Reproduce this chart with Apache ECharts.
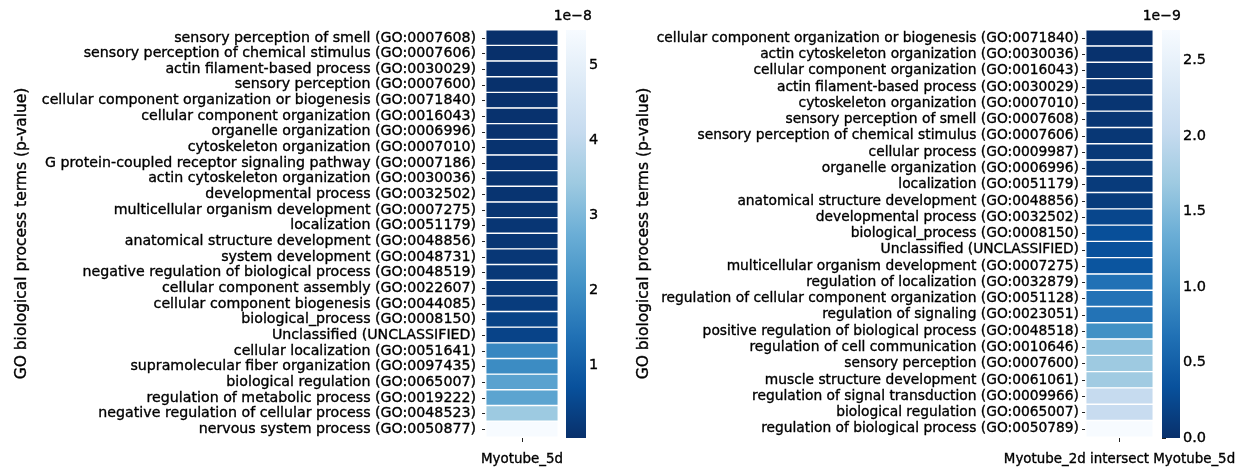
<!DOCTYPE html>
<html>
<head>
<meta charset="utf-8">
<title>GO biological process terms (p-value)</title>
<script src="https://cdn.jsdelivr.net/npm/echarts@6/dist/echarts.min.js"></script>
<style>
  html, body { margin: 0; padding: 0; background: #fff; }
  #chart { width: 1244px; height: 468px; }
</style>
</head>
<body>
<div id="chart"></div>
<script>
// ---- Myotube_5d enrichment ----
const leftColumn = 'Myotube_5d';
const leftTerms = [
  'sensory perception of smell (GO:0007608)',
  'sensory perception of chemical stimulus (GO:0007606)',
  'actin filament-based process (GO:0030029)',
  'sensory perception (GO:0007600)',
  'cellular component organization or biogenesis (GO:0071840)',
  'cellular component organization (GO:0016043)',
  'organelle organization (GO:0006996)',
  'cytoskeleton organization (GO:0007010)',
  'G protein-coupled receptor signaling pathway (GO:0007186)',
  'actin cytoskeleton organization (GO:0030036)',
  'developmental process (GO:0032502)',
  'multicellular organism development (GO:0007275)',
  'localization (GO:0051179)',
  'anatomical structure development (GO:0048856)',
  'system development (GO:0048731)',
  'negative regulation of biological process (GO:0048519)',
  'cellular component assembly (GO:0022607)',
  'cellular component biogenesis (GO:0044085)',
  'biological_process (GO:0008150)',
  'Unclassified (UNCLASSIFIED)',
  'cellular localization (GO:0051641)',
  'supramolecular fiber organization (GO:0097435)',
  'biological regulation (GO:0065007)',
  'regulation of metabolic process (GO:0019222)',
  'negative regulation of cellular process (GO:0048523)',
  'nervous system process (GO:0050877)'
];
const leftPvals = [
  3.0e-10, 3.2e-10, 4.0e-10, 5.0e-10, 6.0e-10, 7.0e-10, 8.0e-10, 9.0e-10,
  1.0e-9, 1.1e-9, 1.2e-9, 1.3e-9, 1.5e-9, 1.6e-9, 1.8e-9, 2.0e-9, 2.2e-9,
  2.8e-9, 4.2e-9, 4.3e-9, 1.85e-8, 1.94e-8, 2.47e-8, 2.5e-8, 3.42e-8, 5.47e-8
];
const leftBarTicks = [1, 2, 3, 4, 5];   // colorbar ticks, in units of 1e-8
const leftBarExp = -8;

// ---- Myotube_2d intersect Myotube_5d enrichment ----
const rightColumn = 'Myotube_2d intersect Myotube_5d';
const rightTerms = [
  'cellular component organization or biogenesis (GO:0071840)',
  'actin cytoskeleton organization (GO:0030036)',
  'cellular component organization (GO:0016043)',
  'actin filament-based process (GO:0030029)',
  'cytoskeleton organization (GO:0007010)',
  'sensory perception of smell (GO:0007608)',
  'sensory perception of chemical stimulus (GO:0007606)',
  'cellular process (GO:0009987)',
  'organelle organization (GO:0006996)',
  'localization (GO:0051179)',
  'anatomical structure development (GO:0048856)',
  'developmental process (GO:0032502)',
  'biological_process (GO:0008150)',
  'Unclassified (UNCLASSIFIED)',
  'multicellular organism development (GO:0007275)',
  'regulation of localization (GO:0032879)',
  'regulation of cellular component organization (GO:0051128)',
  'regulation of signaling (GO:0023051)',
  'positive regulation of biological process (GO:0048518)',
  'regulation of cell communication (GO:0010646)',
  'sensory perception (GO:0007600)',
  'muscle structure development (GO:0061061)',
  'regulation of signal transduction (GO:0009966)',
  'biological regulation (GO:0065007)',
  'regulation of biological process (GO:0050789)'
];
const rightPvals = [
  2.0e-13, 2.0e-11, 3.0e-11, 4.0e-11, 5.0e-11, 6.0e-11, 7.0e-11, 9.0e-11,
  1.0e-10, 1.1e-10, 1.2e-10, 2.3e-10, 3.2e-10, 3.4e-10, 3.8e-10,
  6.75e-10, 6.9e-10, 7.0e-10, 1.0e-9, 1.59e-9, 1.69e-9, 1.71e-9,
  2.03e-9, 2.05e-9, 2.7e-9
];
const rightBarTicks = [0.0, 0.5, 1.0, 1.5, 2.0, 2.5];   // in units of 1e-9
const rightBarExp = -9;

// Blues colormap, light to dark (reversed when mapping values)
const blues = ['#f7fbff', '#deebf7', '#c6dbef', '#9ecae1', '#6baed6',
               '#4292c6', '#2171b5', '#08519c', '#08306b'];
const bluesR = blues.slice().reverse();

const FONT = 'DejaVu Sans';
const TEXT = '#000';
// slightly heavier strokes for all text
const HEAVY = { textBorderColor: '#000', textBorderWidth: 0.35 };

function heatData(vals) {
  return vals.map((v, i) => [0, i, v]);
}

// layout of the two panels (pixels)
const panels = [
  { hm: { left: 486, top: 30, width: 72, height: 407 },
    cb: { left: 566, top: 30, width: 20, height: 408 },
    labelSize: 14.2, labelMargin: 10, nameGap: 456, offsetX: 592,
    colSize: 13.4 },
  { hm: { left: 1086, top: 30, width: 67, height: 407 },
    cb: { left: 1162, top: 30, width: 18, height: 408 },
    labelSize: 13.8, labelMargin: 7, nameGap: 434, offsetX: 1181,
    colSize: 13.4 }
];

const sets = [
  { terms: leftTerms, vals: leftPvals, col: leftColumn, ticks: leftBarTicks, exp: leftBarExp, digits: 0 },
  { terms: rightTerms, vals: rightPvals, col: rightColumn, ticks: rightBarTicks, exp: rightBarExp, digits: 1 }
];

const grid = [], xAxis = [], yAxis = [], series = [], visualMap = [], graphic = [];

sets.forEach((s, k) => {
  const p = panels[k];
  const vmin = Math.min(...s.vals);
  const vmax = Math.max(...s.vals);
  const scale = Math.pow(10, s.exp);
  const hmIdx = grid.length;
  grid.push(Object.assign({ containLabel: false }, p.hm));
  const cbIdx = grid.length;
  grid.push(Object.assign({ containLabel: false }, p.cb));

  // heatmap axes
  xAxis.push({
    gridIndex: hmIdx, type: 'category', data: [s.col], position: 'bottom',
    axisLine: { show: false },
    axisTick: { show: true, alignWithLabel: true, length: 5, lineStyle: { color: '#222' } },
    axisLabel: Object.assign({ color: TEXT, fontFamily: FONT, fontSize: p.colSize, margin: 16 }, HEAVY),
    splitLine: { show: false }
  });
  yAxis.push({
    gridIndex: hmIdx, type: 'category', data: s.terms, inverse: true,
    axisLine: { show: false },
    axisTick: { show: true, alignWithLabel: true, length: 4, lineStyle: { color: '#222' } },
    axisLabel: Object.assign({ color: TEXT, fontFamily: FONT, fontSize: p.labelSize,
                 margin: p.labelMargin, interval: 0 }, HEAVY),
    name: 'GO biological process terms (p-value)',
    nameLocation: 'middle', nameRotate: 90, nameGap: p.nameGap,
    nameTextStyle: Object.assign({ color: TEXT, fontFamily: FONT, fontSize: 15.5 }, HEAVY),
    splitLine: { show: false }
  });

  // colorbar axes (axis floor at zero so the 0.0 tick can sit on the bar's bottom)
  xAxis.push({
    gridIndex: cbIdx, type: 'value', min: 0, max: 1, show: false
  });
  yAxis.push({
    gridIndex: cbIdx, type: 'value', min: s.digits ? 0 : vmin,
    max: vmax, position: 'right',
    axisLine: { show: false },
    splitLine: { show: false },
    axisTick: { show: true, length: 4, customValues: s.ticks.map(t => t * scale),
                lineStyle: { color: '#222' } },
    axisLabel: Object.assign({ show: true, color: TEXT, fontFamily: FONT, fontSize: 14.5, margin: 3,
                 customValues: s.ticks.map(t => t * scale),
                 formatter: v => (v / scale).toFixed(s.digits) }, HEAVY)
  });

  // exponent shown above the colorbar
  graphic.push({
    type: 'text', right: 1244 - p.offsetX, top: 9,
    style: Object.assign({ text: '1e\u2212' + String(-s.exp), fill: TEXT,
             font: '14px "DejaVu Sans"', align: 'right' },
             { stroke: '#000', lineWidth: 0.35 })
  });

  const hmSeries = series.length;
  series.push({
    type: 'heatmap',
    xAxisIndex: xAxis.length - 2, yAxisIndex: yAxis.length - 2,
    data: heatData(s.vals),
    itemStyle: { borderColor: '#ffffff', borderWidth: 1.4 },
    emphasis: { disabled: true },
    silent: true
  });
  visualMap.push({
    type: 'continuous', show: false, seriesIndex: hmSeries, dimension: 2,
    min: vmin, max: vmax, inRange: { color: bluesR }
  });

  // colorbar gradient spanning vmin..vmax on the colorbar axis
  series.push({
    type: 'custom',
    xAxisIndex: xAxis.length - 1, yAxisIndex: yAxis.length - 1,
    data: [[0, vmin, vmax]],
    silent: true,
    renderItem: (params, api) => {
      const cs = params.coordSys;
      const top = api.coord([0, api.value(2)]);
      const bot = api.coord([0, api.value(1)]);
      return {
        type: 'rect',
        shape: { x: cs.x, y: top[1], width: cs.width, height: bot[1] - top[1] },
        style: {
          fill: new echarts.graphic.LinearGradient(0, 0, 0, 1,
            blues.map((c, i) => ({ offset: i / (blues.length - 1), color: c })))
        }
      };
    }
  });
});

const chart = echarts.init(document.getElementById('chart'), null, { renderer: 'canvas' });
chart.setOption({
  animation: false,
  backgroundColor: '#ffffff',
  grid, xAxis, yAxis, series, visualMap, graphic
});
</script>
</body>
</html>
